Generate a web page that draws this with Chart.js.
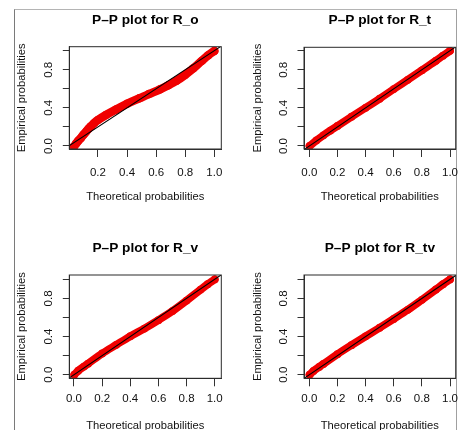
<!DOCTYPE html>
<html>
<head>
<meta charset="utf-8">
<script src="https://cdn.jsdelivr.net/npm/chart.js@4/dist/chart.umd.min.js"></script>
<style>
html,body{margin:0;padding:0;background:#fff;overflow:hidden;width:460px;height:430px;position:relative;}
#frame{position:absolute;left:13.5px;top:8.5px;width:443.5px;height:440px;box-sizing:border-box;border-left:1.5px solid #7a7a7a;border-top:1px solid #b4b4b4;border-right:1px solid #a0a0a0;}
canvas{position:absolute;}
</style>
</head>
<body>
<div id="frame"></div>
<canvas id="c1" width="260" height="215" style="left:0px;top:0px"></canvas>
<canvas id="c2" width="260" height="215" style="left:230px;top:0px"></canvas>
<canvas id="c3" width="260" height="230" style="left:0px;top:215px"></canvas>
<canvas id="c4" width="260" height="230" style="left:230px;top:215px"></canvas>
<script>
// ---- data ----
const titles = ['P\u2013P plot for R_o', 'P\u2013P plot for R_t', 'P\u2013P plot for R_v', 'P\u2013P plot for R_tv'];
const xAxisTitle = 'Theoretical probabilities';
const yAxisTitle = 'Empirical probabilities';

const xTicksRo = [0.2, 0.4, 0.6, 0.8, 1.0];
const xTicksFull = [0.0, 0.2, 0.4, 0.6, 0.8, 1.0];
const yTicks = [0.0, 0.2, 0.4, 0.6, 0.8, 1.0];
const yTickLabels = ['0.0', '', '0.4', '', '0.8', ''];

const roX = [0.035, 0.05, 0.065, 0.083, 0.1, 0.118, 0.135, 0.152, 0.175, 0.2, 0.255, 0.324, 0.4, 0.484, 0.55, 0.627, 0.684, 0.741, 0.798, 0.856, 0.913, 0.959, 1.0];
const roY = [-0.005, 0.025, 0.055, 0.085, 0.118, 0.15, 0.18, 0.207, 0.242, 0.272, 0.325, 0.383, 0.443, 0.5, 0.545, 0.595, 0.637, 0.685, 0.745, 0.815, 0.893, 0.953, 0.997];

const rtX = [0.002, 0.05, 0.1, 0.15, 0.2, 0.3, 0.4, 0.5, 0.6, 0.7, 0.8, 0.9, 0.95, 1.0];
const rtY = [0.0, 0.058, 0.112, 0.162, 0.211, 0.307, 0.401, 0.497, 0.597, 0.695, 0.794, 0.895, 0.948, 0.999];

const rvX = [0.002, 0.03, 0.07, 0.1, 0.2, 0.3, 0.4, 0.5, 0.6, 0.7, 0.8, 0.9, 0.95, 1.0];
const rvY = [0.0, 0.042, 0.085, 0.116, 0.222, 0.313, 0.403, 0.484, 0.572, 0.667, 0.777, 0.892, 0.948, 0.999];

const rtvX = [0.002, 0.03, 0.07, 0.1, 0.2, 0.3, 0.4, 0.5, 0.6, 0.7, 0.8, 0.9, 0.95, 1.0];
const rtvY = [0.0, 0.04, 0.082, 0.112, 0.215, 0.31, 0.402, 0.492, 0.585, 0.68, 0.785, 0.893, 0.948, 0.999];

// reference line y = x (abline(0,1)), clipped to the plot box
const refLine = [-0.1, 1.2];

// ---- rendering ----
const FF = "'Liberation Sans', Arial, Helvetica, sans-serif";
const boxPlugin = {
  id: 'rbox',
  afterDraw(chart) {
    const {ctx, chartArea: a} = chart;
    ctx.save();
    ctx.strokeStyle = '#2a2a2a';
    ctx.lineWidth = 1;
    ctx.strokeRect(a.left, a.top, a.right - a.left, a.bottom - a.top);
    ctx.restore();
  }
};

const panels = [
  {id: 'c1', title: titles[0], xs: roX, ys: roY, xt: xTicksRo, W: 260, H: 215, L: 69.3, R: 221.3, T: 46.7, B: 149, tY: 20, xMin: 0.003, xMax: 1.048, yMin: -0.0315, yMax: 1.042, xPad: 8.6, xTPad: 11.1, yTC: 22, bw: 8.5},
  {id: 'c2', title: titles[1], xs: rtX, ys: rtY, xt: xTicksFull, W: 260, H: 215, L: 74, R: 225.7, T: 47.3, B: 149, tY: 20, xMin: -0.0377, xMax: 1.0405, yMin: -0.0315, yMax: 1.036, xPad: 8.6, xTPad: 11.1, yTC: 27.5, bw: 7.8},
  {id: 'c3', title: titles[2], xs: rvX, ys: rvY, xt: xTicksFull, W: 260, H: 230, L: 69.3, R: 221.3, T: 60, B: 163.3, tY: 33.3, xMin: -0.0334, xMax: 1.047, yMin: -0.0377, yMax: 1.0451, xPad: 6, xTPad: 12.3, yTC: 22.3, bw: 7.8},
  {id: 'c4', title: titles[3], xs: rtvX, ys: rtvY, xt: xTicksFull, W: 260, H: 230, L: 74, R: 225.7, T: 60, B: 163.3, tY: 33.3, xMin: -0.0377, xMax: 1.0405, yMin: -0.0377, yMax: 1.0451, xPad: 6, xTPad: 12.3, yTC: 27.7, bw: 7.8}
];

panels.forEach(p => {
  const titleSize = 13.7, titleLH = titleSize * 1.2;
  const padTop = p.tY - titleLH / 2;
  const axisTitleSize = 11.2, axisLH = axisTitleSize * 1.2;
  new Chart(document.getElementById(p.id), {
    type: 'scatter',
    data: {
      datasets: [
        {
          data: refLine.map(v => ({x: v, y: v})),
          showLine: true, borderColor: '#000', borderWidth: 1.1, pointRadius: 0, clip: 0, order: 0
        },
        {
          data: p.xs.map((x, i) => ({x: x, y: p.ys[i]})),
          showLine: true, borderColor: 'rgb(240,0,0)', backgroundColor: 'rgb(240,0,0)',
          borderWidth: p.bw, borderCapStyle: 'round', borderJoinStyle: 'round',
          cubicInterpolationMode: 'monotone',
          pointRadius: p.bw / 2, pointBorderWidth: 0, clip: 0, order: 1
        }
      ]
    },
    options: {
      responsive: false, animation: false, devicePixelRatio: 1,
      layout: {padding: {left: 0, top: 0, bottom: 0, right: p.W - p.R}},
      plugins: {
        legend: {display: false}, tooltip: {enabled: false},
        title: {
          display: true, text: p.title, fullSize: false, color: '#000',
          font: {family: FF, size: titleSize, weight: 'bold'},
          padding: {top: padTop, bottom: p.T - padTop - titleLH}
        }
      },
      scales: {
        x: {
          type: 'linear', position: 'bottom', min: p.xMin, max: p.xMax,
          afterBuildTicks: s => { s.ticks = p.xt.map(v => ({value: v})); },
          afterFit: s => { s.height = p.H - p.B; },
          ticks: {callback: v => Number(v).toFixed(1), color: '#111', font: {family: FF, size: 11.5}, padding: p.xPad, maxRotation: 0, minRotation: 0, autoSkip: false},
          grid: {drawOnChartArea: false, drawTicks: true, tickLength: 8, color: '#333', tickColor: '#333', lineWidth: 1},
          border: {display: true, color: '#333', width: 1},
          title: {display: true, text: xAxisTitle, color: '#111', font: {family: FF, size: axisTitleSize}, padding: {top: 0, bottom: p.xTPad}}
        },
        y: {
          type: 'linear', position: 'left', min: p.yMin, max: p.yMax,
          afterBuildTicks: s => { s.ticks = yTicks.map(v => ({value: v})); },
          afterFit: s => { s.width = p.L; },
          ticks: {callback: (v) => yTickLabels[yTicks.indexOf(v)] ?? '', color: '#111', font: {family: FF, size: 11.5}, padding: 5.5, minRotation: 90, maxRotation: 90, crossAlign: 'center', autoSkip: false},
          grid: {drawOnChartArea: false, drawTicks: true, tickLength: 6.5, color: '#333', tickColor: '#333', lineWidth: 1},
          border: {display: true, color: '#333', width: 1},
          title: {display: true, text: yAxisTitle, color: '#111', font: {family: FF, size: axisTitleSize}, padding: {top: p.yTC - axisLH / 2, bottom: 0}}
        }
      }
    },
    plugins: [boxPlugin]
  });
});
</script>
</body>
</html>
